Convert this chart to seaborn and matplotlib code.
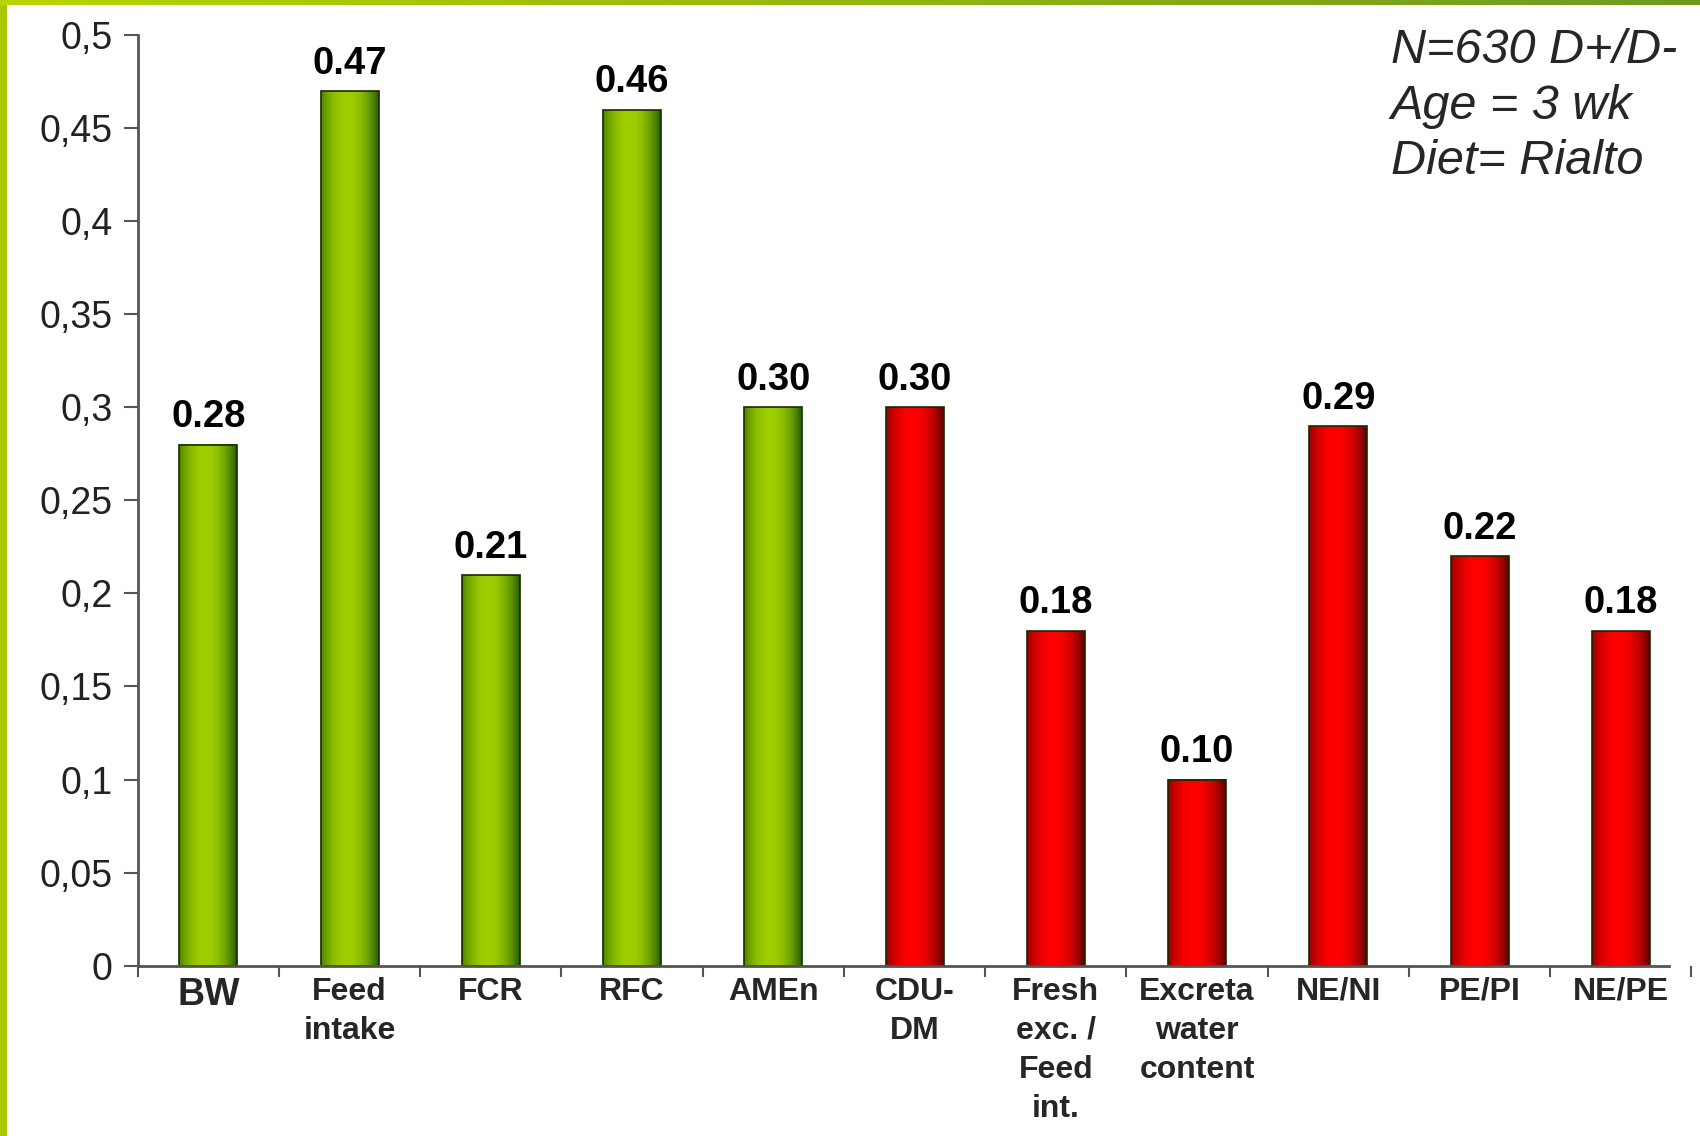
import matplotlib
matplotlib.use("Agg")
import matplotlib.pyplot as plt
import matplotlib.colors as mcolors
import seaborn as sns
import numpy as np
import pandas as pd

# data
categories = ["BW", "Feed\nintake", "FCR", "RFC", "AMEn", "CDU-\nDM",
              "Fresh\nexc. /\nFeed\nint.", "Excreta\nwater\ncontent",
              "NE/NI", "PE/PI", "NE/PE"]
values = [0.28, 0.47, 0.21, 0.46, 0.30, 0.30, 0.18, 0.10, 0.29, 0.22, 0.18]
groups = ["green"] * 5 + ["red"] * 6
y_ticks = [0, 0.05, 0.1, 0.15, 0.2, 0.25, 0.3, 0.35, 0.4, 0.45, 0.5]
y_tick_labels = ["0", "0,05", "0,1", "0,15", "0,2", "0,25", "0,3",
                 "0,35", "0,4", "0,45", "0,5"]
note_lines = ["N=630 D+/D-", "Age = 3 wk", "Diet= Rialto"]

sns.set_theme(style="white")
plt.rcParams['font.family'] = ['Liberation Sans', 'DejaVu Sans']

df = pd.DataFrame({"cat": categories, "val": values, "grp": groups})

fig = plt.figure(figsize=(17, 11.36), dpi=100)
ax = fig.add_axes([0.081, 0.150, 0.914, 0.819])

palette = {"green": "#99cc00", "red": "#ff0000"}
sns.barplot(data=df, x="cat", y="val", hue="grp", palette=palette,
            dodge=False, width=0.41, legend=False, ax=ax,
            edgecolor="#1a2a00", linewidth=1.2, saturation=1)

# gradient fill: dark edges, light centre (slightly left of middle)
t = np.linspace(0, 1, 200)
prof = np.clip(1 - ((t - 0.45) / 0.55) ** 2, 0, 1) ** 0.9
grads = {
    "green": (np.array(mcolors.to_rgb("#1f5800")), np.array(mcolors.to_rgb("#9fcf00"))),
    "red": (np.array(mcolors.to_rgb("#5a0000")), np.array(mcolors.to_rgb("#ff0000"))),
}
for p in ax.patches:
    fc = p.get_facecolor()
    key = "red" if fc[0] > 0.9 and fc[1] < 0.2 else "green"
    dark, light = grads[key]
    img = dark[None, :] + (light - dark)[None, :] * prof[:, None]
    x0, y0 = p.get_x(), p.get_y()
    w, h = p.get_width(), p.get_height()
    ax.imshow(img[None, :, :], extent=[x0, x0 + w, y0, y0 + h],
              aspect="auto", zorder=p.get_zorder() + 0.1, interpolation="bilinear")
    p.set_facecolor("none")
    p.set_zorder(p.get_zorder() + 0.2)

for i, v in enumerate(values):
    ax.text(i, v + 0.005, f"{v:.2f}", ha="center", va="bottom",
            fontsize=27.5, fontweight="bold", color="black")

ax.set_xlim(-0.5, len(categories) - 0.5)
ax.set_ylim(0, 0.5)
ax.set_yticks(y_ticks)
ax.set_yticklabels(y_tick_labels, fontsize=27, color="#222222")
ax.set_xticks(range(len(categories)))
ax.set_xticklabels(categories, fontsize=23, fontweight="bold",
                   linespacing=1.4, va="top")
ax.get_xticklabels()[0].set_fontsize(27)
ax.tick_params(axis="x", which="major", length=0, pad=8)
ax.set_xticks(np.arange(-0.5, len(categories), 1.0), minor=True)
ax.tick_params(axis="x", which="minor", length=8, width=1.5,
               color="#555555", direction="out", bottom=True)
ax.tick_params(axis="y", length=10, width=1.5, color="#555555",
               direction="out", left=True, pad=8)
ax.set_xlabel("")
ax.set_ylabel("")
for s in ["top", "right"]:
    ax.spines[s].set_visible(False)
for s in ["left", "bottom"]:
    ax.spines[s].set_color("#555555")
    ax.spines[s].set_linewidth(2)
ax.spines["bottom"].set_bounds(-0.5, len(categories) - 0.66)

fig.text(0.818, 0.975, "\n".join(note_lines), ha="left", va="top",
         fontsize=35, fontstyle="italic", linespacing=1.3)

# slide decoration: green strips on the left and top
left_ax = fig.add_axes([0, 0, 7 / 1700, 1])
left_ax.set_axis_off()
left_ax.add_patch(plt.Rectangle((0, 0), 1, 1, color="#a9c800",
                                transform=left_ax.transAxes))
top_ax = fig.add_axes([0, 1 - 5 / 1136, 1, 5 / 1136])
tg = np.linspace(0, 1, 300)
top_img = (np.array(mcolors.to_rgb("#b8d400"))[None, :] * (1 - tg[:, None])
           + np.array(mcolors.to_rgb("#6e9a1f"))[None, :] * tg[:, None])
top_ax.imshow(top_img[None, :, :], aspect="auto", extent=[0, 1, 0, 1])
top_ax.set_axis_off()

fig.savefig("out.png", dpi=100)
